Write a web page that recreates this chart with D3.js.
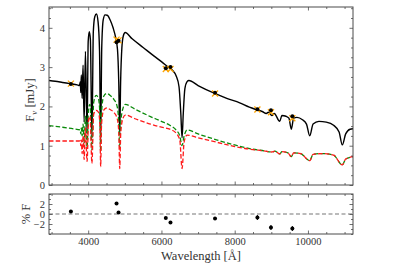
<!DOCTYPE html>
<html>
<head>
<meta charset="utf-8">
<script src="https://unpkg.com/d3@7/dist/d3.min.js"></script>
<style>
  body { margin: 0; background: #fff; }
  text { font-family: "Liberation Serif", "DejaVu Serif", serif; fill: #333; }
</style>
</head>
<body>
<svg width="393" height="267"></svg>
<script>
// total model spectrum (black), wavelength [A] / flux [mJy]
const totalWave = [2930, 3100, 3300, 3500, 3700, 3760, 3785, 3798, 3812, 3835, 3860, 3889, 3925, 3970, 4000, 4030, 4060, 4102,
  4140, 4180, 4225, 4270, 4310, 4340, 4370, 4410, 4460, 4520, 4600, 4680, 4750, 4800, 4835, 4861, 4885, 4920, 4960, 5010,
  5200, 5500, 5800, 6000, 6200, 6300, 6400, 6480, 6530, 6563, 6595, 6640, 6700, 6750, 7000, 7455, 7800, 8137, 8400, 8620,
  8750, 8863, 8920, 9015, 9080, 9229, 9290, 9400, 9480, 9546, 9610, 9700, 9850, 9960, 10049, 10140, 10300, 10500, 10700,
  10850, 10938, 11030, 11150, 11230];
const totalFlux = [2.66, 2.64, 2.61, 2.58, 2.55, 2.53, 2.62, 2.35, 2.80, 2.20, 3.05, 1.60, 3.40, 1.30, 3.65, 3.90, 3.70, 1.20,
  3.90, 4.28, 4.35, 4.15, 3.40, 1.10, 3.50, 4.20, 4.33, 4.32, 4.20, 4.00, 3.75, 3.45, 2.60, 1.30, 2.60, 3.50, 3.80, 3.88,
  3.72, 3.50, 3.28, 3.14, 2.99, 2.92, 2.78, 2.50, 1.80, 1.20, 1.80, 2.45, 2.63, 2.66, 2.53, 2.33, 2.20, 2.09, 1.98, 1.91,
  1.87, 1.82, 1.85, 1.77, 1.82, 1.62, 1.77, 1.75, 1.70, 1.42, 1.70, 1.72, 1.66, 1.55, 1.25, 1.55, 1.62, 1.60, 1.52,
  1.35, 1.02, 1.30, 1.42, 1.43];

// first component (green dashed)
const compAWave = [2930, 3300, 3600, 3780, 3798, 3812, 3835, 3860, 3889, 3925, 3970, 4010, 4050, 4102, 4150, 4220, 4280,
  4320, 4340, 4365, 4420, 4500, 4600, 4700, 4790, 4835, 4861, 4890, 4950, 5010, 5300, 5700, 6000, 6228, 6400, 6500, 6563,
  6620, 6700, 7000, 7500, 8000, 8500, 8800, 9015, 9100, 9229, 9290, 9450, 9546, 9610, 9800, 10049, 10140, 10400, 10700,
  10938, 11030, 11230];
const compAFlux = [1.51, 1.47, 1.43, 1.40, 1.30, 1.45, 1.25, 1.55, 1.05, 1.75, 0.95, 1.95, 2.05, 0.90, 2.10, 2.28, 2.20,
  1.80, 0.85, 1.85, 2.25, 2.33, 2.28, 2.18, 2.00, 1.60, 0.95, 1.60, 1.95, 2.05, 1.92, 1.74, 1.62, 1.52, 1.40, 1.25, 1.00,
  1.25, 1.40, 1.30, 1.15, 1.02, 0.91, 0.87, 0.84, 0.86, 0.79, 0.85, 0.82, 0.72, 0.82, 0.80, 0.62, 0.78, 0.80, 0.76,
  0.51, 0.66, 0.72];

// second component (red dashed)
const compBWave = [2930, 3300, 3600, 3780, 3798, 3812, 3835, 3860, 3889, 3925, 3970, 4010, 4050, 4102, 4150, 4220, 4280,
  4320, 4340, 4365, 4420, 4500, 4600, 4700, 4790, 4835, 4861, 4890, 4950, 5010, 5300, 5700, 6000, 6228, 6400, 6500, 6563,
  6620, 6700, 7000, 7500, 8000, 8500, 8800, 9015, 9100, 9229, 9290, 9450, 9546, 9610, 9800, 10049, 10140, 10400, 10700,
  10938, 11030, 11230];
const compBFlux = [1.12, 1.12, 1.12, 1.12, 1.00, 1.15, 0.80, 1.25, 0.65, 1.45, 0.60, 1.65, 1.75, 0.55, 1.80, 1.90, 1.85,
  1.55, 0.47, 1.55, 1.90, 1.96, 1.92, 1.85, 1.70, 1.35, 0.42, 1.35, 1.70, 1.78, 1.68, 1.55, 1.47, 1.42, 1.32, 1.15, 0.42,
  1.10, 1.27, 1.20, 1.09, 0.98, 0.90, 0.87, 0.84, 0.86, 0.79, 0.85, 0.82, 0.72, 0.82, 0.80, 0.62, 0.78, 0.80, 0.76,
  0.51, 0.66, 0.72];

// photometry
const photWave = [3528, 4774, 4829, 6119, 6247, 7463, 8620, 8990, 9574];
const synthFlux = [2.58, 3.70, 3.68, 2.95, 2.95, 2.33, 1.92, 1.85, 1.70];
const obsFlux = [2.57, 3.63, 3.67, 2.97, 3.00, 2.35, 1.93, 1.90, 1.75];
const residual = [0.5, 2.1, 0.3, -0.8, -1.7, -0.9, -0.7, -2.7, -2.9];
const residErr = [0.2, 0.2, 0.2, 0.2, 0.2, 0.3, 0.5, 0.5, 0.5];

const xTicks = [4000, 6000, 8000, 10000];
const fluxTicks = [0, 1, 2, 3, 4];
const residTicks = [-2, 0, 2];

const svg = d3.select('svg');
const left = 49, right = 353;
const mainTop = 7, mainBottom = 185;
const resTop = 194, resBottom = 234;

const x = d3.scaleLinear().domain([2930, 11230]).range([left, right]);
const y = d3.scaleLinear().domain([0, 4.53]).range([mainBottom, mainTop]);
const yr = d3.scaleLinear().domain([-4, 4]).range([resBottom, resTop]);

const defs = svg.append('defs');
defs.append('clipPath').attr('id', 'clipMain')
  .append('rect').attr('x', left).attr('y', mainTop).attr('width', right - left).attr('height', mainBottom - mainTop);
defs.append('clipPath').attr('id', 'clipRes')
  .append('rect').attr('x', left).attr('y', resTop).attr('width', right - left).attr('height', resBottom - resTop);

const line = d3.line().x(d => x(d[0])).y(d => y(d[1])).curve(d3.curveMonotoneX);

const gMain = svg.append('g').attr('clip-path', 'url(#clipMain)');
gMain.append('path')
  .attr('d', line(d3.zip(totalWave, totalFlux)))
  .attr('fill', 'none').attr('stroke', '#000').attr('stroke-width', 1.4);
gMain.append('path')
  .attr('d', line(d3.zip(compAWave, compAFlux)))
  .attr('fill', 'none').attr('stroke', '#0a8a0a').attr('stroke-width', 1.3)
  .attr('stroke-dasharray', '4.5,2.2');
gMain.append('path')
  .attr('d', line(d3.zip(compBWave, compBFlux)))
  .attr('fill', 'none').attr('stroke', '#ff1a1a').attr('stroke-width', 1.3)
  .attr('stroke-dasharray', '4.5,2.2');

// synthetic photometry (orange x) and observed (black dots)
const xs = 3;
photWave.forEach((w, i) => {
  const cx = x(w), cy = y(synthFlux[i]);
  gMain.append('path')
    .attr('d', `M${cx - xs},${cy - xs}L${cx + xs},${cy + xs}M${cx - xs},${cy + xs}L${cx + xs},${cy - xs}`)
    .attr('stroke', '#ffa500').attr('stroke-width', 1.3).attr('fill', 'none');
});
gMain.selectAll('circle.obs').data(d3.zip(photWave, obsFlux)).join('circle')
  .attr('class', 'obs')
  .attr('cx', d => x(d[0])).attr('cy', d => y(d[1])).attr('r', 2).attr('fill', '#000');

// residual panel
const gRes = svg.append('g').attr('clip-path', 'url(#clipRes)');
gRes.append('line')
  .attr('x1', left).attr('x2', right).attr('y1', yr(0)).attr('y2', yr(0))
  .attr('stroke', '#777').attr('stroke-width', 1.1).attr('stroke-dasharray', '4,2.5');
const resData = d3.zip(photWave, residual, residErr);
gRes.selectAll('line.err').data(resData).join('line')
  .attr('class', 'err')
  .attr('x1', d => x(d[0])).attr('x2', d => x(d[0]))
  .attr('y1', d => yr(d[1] - d[2])).attr('y2', d => yr(d[1] + d[2]))
  .attr('stroke', '#000').attr('stroke-width', 1);
gRes.selectAll('circle.res').data(resData).join('circle')
  .attr('class', 'res')
  .attr('cx', d => x(d[0])).attr('cy', d => yr(d[1])).attr('r', 2).attr('fill', '#000');

// axes with inward ticks on all four sides
const frame = '#4a4a4a';
function panelAxes(ys, top, bottom, yMajor, yMinor, xLabels, yFmt) {
  const xMinor = d3.range(3000, 11300, 500);
  const addX = (orient, pos, ticks, len, labels) => {
    const ax = (orient === 'bottom' ? d3.axisBottom(x) : d3.axisTop(x))
      .tickValues(ticks).tickSizeInner(-len).tickSizeOuter(0)
      .tickFormat(labels ? d3.format('d') : '');
    const g = svg.append('g').attr('transform', `translate(0,${pos})`).call(ax);
    g.select('.domain').remove();
    g.selectAll('line').attr('stroke', frame).attr('stroke-width', 0.8);
    g.selectAll('text').attr('font-size', 10.5).attr('fill', '#333').attr('dy', '0.72em')
      .attr('font-family', '"Liberation Serif", serif');
    return g;
  };
  const addY = (orient, pos, ticks, len, labels) => {
    const ax = (orient === 'left' ? d3.axisLeft(ys) : d3.axisRight(ys))
      .tickValues(ticks).tickSizeInner(-len).tickSizeOuter(0)
      .tickFormat(labels ? yFmt : '');
    const g = svg.append('g').attr('transform', `translate(${pos},0)`).call(ax);
    g.select('.domain').remove();
    g.selectAll('line').attr('stroke', frame).attr('stroke-width', 0.8);
    g.selectAll('text').attr('font-size', 10.5).attr('fill', '#333').attr('x', -4)
      .attr('font-family', '"Liberation Serif", serif');
    return g;
  };
  addX('bottom', bottom, xTicks, 3.5, xLabels);
  addX('bottom', bottom, xMinor.filter(v => !xTicks.includes(v)), 2, false);
  addX('top', top, xTicks, 3.5, false);
  addX('top', top, xMinor.filter(v => !xTicks.includes(v)), 2, false);
  addY('left', left, yMajor, 3.5, true);
  addY('left', left, yMinor, 2, false);
  addY('right', right, yMajor, 3.5, false);
  addY('right', right, yMinor, 2, false);
  svg.append('rect').attr('x', left).attr('y', top).attr('width', right - left).attr('height', bottom - top)
    .attr('fill', 'none').attr('stroke', frame).attr('stroke-width', 1);
}

const minus = v => (v < 0 ? '\u2212' + Math.abs(v) : String(v));
panelAxes(y, mainTop, mainBottom, fluxTicks,
  d3.range(0, 4.6, 0.25).filter(v => !fluxTicks.includes(v)), false, d3.format('d'));
panelAxes(yr, resTop, resBottom, residTicks,
  [-4, -3, -1, 1, 3, 4], true, minus);

// axis labels
svg.append('text').attr('x', (left + right) / 2).attr('y', 260).attr('text-anchor', 'middle')
  .attr('font-size', 12.5).text('Wavelength [Å]');

const fl = svg.append('text').attr('transform', `translate(34,${(mainTop + mainBottom) / 2 + 4}) rotate(-90)`)
  .attr('text-anchor', 'middle').attr('font-size', 12.5);
fl.append('tspan').text('F');
fl.append('tspan').attr('font-size', 9).attr('dy', 3).attr('font-style', 'italic').text('ν');
fl.append('tspan').attr('dy', -3).text(' [mJy]');

svg.append('text').attr('transform', `translate(30,${(resTop + resBottom) / 2}) rotate(-90)`)
  .attr('text-anchor', 'middle').attr('font-size', 12.5).text('% F');
</script>
</body>
</html>
